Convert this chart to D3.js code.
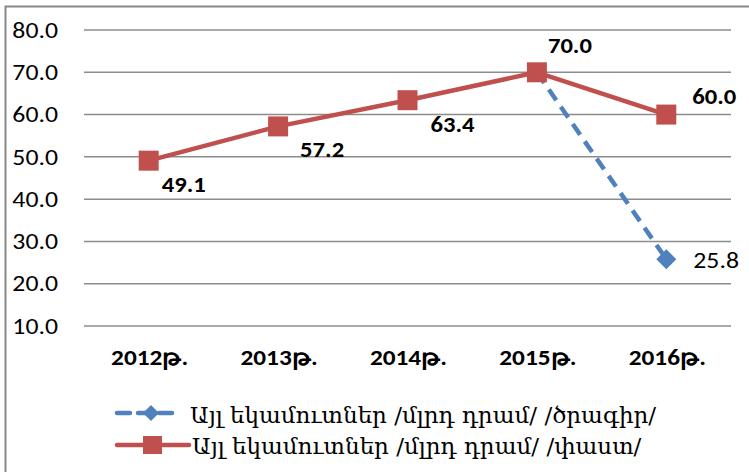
<!DOCTYPE html>
<html>
<head>
<meta charset="utf-8">
<script src="https://cdn.jsdelivr.net/npm/d3@7"></script>
<style>
  body { margin: 0; background: #fff; }
  svg { display: block; }
</style>
</head>
<body>
<svg id="chart" width="749" height="472"></svg>
<script>
// data
const years = ['2012թ.', '2013թ.', '2014թ.', '2015թ.', '2016թ.'];
const planYears = ['2015թ.', '2016թ.'];
const planValues = [70.0, 25.8];
const factValues = [49.1, 57.2, 63.4, 70.0, 60.0];
const yTicks = [10, 20, 30, 40, 50, 60, 70, 80];
const planName = 'Այլ եկամուտներ /մլրդ դրամ/ /ծրագիր/';
const factName = 'Այլ եկամուտներ /մլրդ դրամ/ /փաստ/';

const blue = '#4f81bd', red = '#c0504d';
const numFont = 'Carlito, Calibri, "Open Sans", sans-serif';
const stretch = 1.17;   // the reference text is a bit wider than Calibri

let svg = d3.select('#chart');

// place a text at (x,y) with the horizontal stretch
function place(sel, fx, fy, sx) {
    sel.attr('x', 0).attr('y', 0)
       .attr('transform', (d, i) => 'translate(' + fx(d, i) + ',' + fy(d, i) + ') scale(' + (sx || stretch) + ',1)');
}

// outer frame (only left and top visible in the picture)
svg.append('rect')
    .attr('x', 5.5).attr('y', 6.5)
    .attr('width', 800).attr('height', 500)
    .attr('fill', 'none')
    .attr('stroke', '#888').attr('stroke-width', 2);

let x = d3.scaleBand().domain(years).range([84, 731]);
let y = d3.scaleLinear().domain([10, 80]).range([326, 30]);
let cx = d => x(d) + x.bandwidth() / 2;

// gridlines
svg.append('g').selectAll('line')
    .data(yTicks).enter().append('line')
    .attr('x1', 84).attr('x2', 731)
    .attr('y1', d => y(d)).attr('y2', d => y(d))
    .attr('stroke', '#8c8c8c').attr('stroke-width', 1.5);

// y labels
svg.append('g').selectAll('text')
    .data(yTicks).enter().append('text')
    .call(place, d => 58, d => y(d))
    .attr('dy', '0.35em')
    .attr('text-anchor', 'end')
    .style('font-family', numFont).style('font-size', '22px')
    .attr('fill', '#000')
    .text(d => d.toFixed(1));

// x labels
svg.append('g').selectAll('text')
    .data(years).enter().append('text')
    .call(place, d => cx(d) + 1, d => 357, 1.15)
    .attr('dy', '0.35em')
    .attr('text-anchor', 'middle')
    .style('font-family', numFont).style('font-size', '22px').style('font-weight', 'bold')
    .text(d => d);

let line = d3.line().x(d => cx(d[0])).y(d => y(d[1]));

// fact series (red)
let factPts = years.map((c, i) => [c, factValues[i]]);
svg.append('path')
    .datum(factPts)
    .attr('d', line)
    .attr('fill', 'none').attr('stroke', red).attr('stroke-width', 4.5)
    .attr('stroke-linejoin', 'round');

// plan series (blue dashed)
let planPts = planYears.map((c, i) => [c, planValues[i]]);
svg.append('path')
    .datum(planPts)
    .attr('d', line)
    .attr('fill', 'none').attr('stroke', blue).attr('stroke-width', 4.5)
    .attr('stroke-dasharray', '13,8');

svg.append('g').selectAll('path')
    .data(planPts).enter().append('path')
    .attr('d', d3.symbol().type(d3.symbolSquare).size(200))
    .attr('transform', d => 'translate(' + cx(d[0]) + ',' + y(d[1]) + ') rotate(45)')
    .attr('fill', blue)
    .style('display', (d, i) => i === 0 ? 'none' : null);

svg.append('g').selectAll('rect')
    .data(factPts).enter().append('rect')
    .attr('x', d => cx(d[0]) - 10).attr('y', d => y(d[1]) - 10)
    .attr('width', 20).attr('height', 20)
    .attr('fill', red);

// data labels, offsets follow the reference placement
const factOffsets = [[13, 24], [22, 23], [23, 24], [11, -27], [26, -18]];
svg.append('g').selectAll('text')
    .data(factPts).enter().append('text')
    .call(place, (d, i) => cx(d[0]) + factOffsets[i][0], (d, i) => y(d[1]) + factOffsets[i][1], 1.12)
    .attr('dy', '0.35em')
    .style('font-family', numFont).style('font-size', '22px').style('font-weight', 'bold')
    .text(d => d[1].toFixed(1));

svg.append('text')
    .datum(planPts[1])
    .call(place, d => cx(d[0]) + 27, d => y(d[1]) + 1)
    .attr('dy', '0.35em')
    .style('font-family', numFont).style('font-size', '22px')
    .text(d => d[1].toFixed(1));

// legend
let legFont = 'Sylfaen, "DejaVu Serif", "DejaVu Sans", serif';
let lg = svg.append('g');
lg.append('line').attr('x1', 117).attr('x2', 179).attr('y1', 413).attr('y2', 413)
    .attr('stroke', blue).attr('stroke-width', 4.5).attr('stroke-dasharray', '13,8')
    .attr('stroke-linecap', 'round');
lg.append('path')
    .attr('d', d3.symbol().type(d3.symbolSquare).size(130))
    .attr('transform', 'translate(151,413) rotate(45)')
    .attr('fill', blue);
lg.append('text').attr('x', 190).attr('y', 415).attr('dy', '0.35em')
    .style('font-family', legFont).style('font-size', '23px')
    .text(planName);

lg.append('line').attr('x1', 117).attr('x2', 189).attr('y1', 445).attr('y2', 445)
    .attr('stroke', red).attr('stroke-width', 4.5).attr('stroke-linecap', 'round');
lg.append('rect').attr('x', 143).attr('y', 436).attr('width', 19).attr('height', 18)
    .attr('fill', red);
lg.append('text').attr('x', 192).attr('y', 446).attr('dy', '0.35em')
    .style('font-family', legFont).style('font-size', '23px')
    .text(factName);
</script>
</body>
</html>
